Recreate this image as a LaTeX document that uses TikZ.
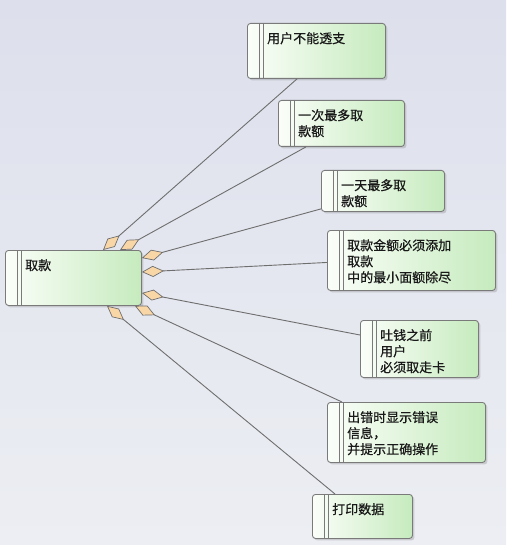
\documentclass[tikz,border=0pt]{standalone}
\usepackage{fontspec}
\newfontfamily\cjk[FakeBold=0.6]{Noto Sans CJK SC}
\usetikzlibrary{arrows.meta,calc,shadows}
\definecolor{bgtop}{HTML}{DDE0EC}
\definecolor{bgbot}{HTML}{ECEEF3}
\definecolor{gleft}{HTML}{FBFEF9}
\definecolor{gright}{HTML}{C6EBBE}
\definecolor{boxline}{HTML}{7A7A7A}
\definecolor{linkline}{HTML}{6E6E6E}
\definecolor{dfill}{HTML}{F9D6A6}
\tikzset{
  umlbox/.style={draw=boxline, line width=0.9pt, rounded corners=3pt,
    left color=gleft, right color=gright, anchor=north west, inner sep=0pt,
    drop shadow={shadow xshift=2pt, shadow yshift=-2pt, opacity=0.25, fill=black!60}},
  boxtext/.style={anchor=north west, inner sep=0pt, align=left,
    font=\cjk\fontsize{13}{16}\selectfont, text=black!90},
  bar/.style={draw=boxline, line width=0.8pt},
  link/.style={draw=linkline, line width=0.9pt,
    {Diamond[length=22pt,width=11pt,fill=dfill,line width=0.7pt]}-},
}
\newcommand\mkbox[6]{%
  \node[umlbox, minimum width=#4pt, minimum height=#5pt] (#1) at (#2,#3) {};
  \draw[bar] ([xshift=12pt]#1.north west) -- ([xshift=12pt]#1.south west);
  \draw[bar] ([xshift=16pt]#1.north west) -- ([xshift=16pt]#1.south west);
  \node[boxtext] (#1t) at ($(#1.north west)+(20,9)$) {#6};
}
\begin{document}
\begin{tikzpicture}[x=1pt,y=-1pt]
\fill[top color=bgtop, bottom color=bgbot] (0,0) rectangle (506,545);
\useasboundingbox (0,0) rectangle (506,545);

\mkbox{qk}{5}{250}{136}{55}{取款}
\mkbox{b1}{247}{23}{138}{55}{用户不能透支}
\mkbox{b2}{278}{100}{126}{46}{一次最多取\\款额}
\mkbox{b3}{321}{170}{123}{41}{一天最多取\\款额}
\mkbox{b4}{327}{230}{168}{60}{取款金额必须添加\\取款\\中的最小面额除尽}
\mkbox{b5}{360}{320}{118}{57}{吐钱之前\\用户\\必须取走卡}
\mkbox{b6}{327}{402}{158}{60}{出错时显示错误\\信息，\\并提示正确操作}
\mkbox{b7}{312}{494}{100}{44}{打印数据}

\coordinate (s1) at ($(qk.north west)+(98,0)$);
\coordinate (s2) at ($(qk.north west)+(115,0)$);
\coordinate (s3) at ($(qk.north east)+(0,8)$);
\coordinate (s4) at ($(qk.north east)+(0,22)$);
\coordinate (s5) at ($(qk.north east)+(0,43)$);
\coordinate (s6) at ($(qk.south west)+(130,0)$);
\coordinate (s7) at ($(qk.south west)+(102,0)$);

\coordinate (e1) at ($(b1.south west)+(50,0)$);
\coordinate (e2) at ($(b2.south west)+(28,0)$);
\coordinate (e3) at ($(b3.south west)+(0,-3)$);
\coordinate (e4) at ($(b4.west)+(0,2)$);
\coordinate (e5) at ($(b5.north west)+(0,15)$);
\coordinate (e6) at ($(b6.north west)+(15,0)$);
\coordinate (e7) at ($(b7.north west)+(23,0)$);

\foreach \i in {1,...,7} {\draw[link] (s\i) -- (e\i);}
\end{tikzpicture}
\end{document}
